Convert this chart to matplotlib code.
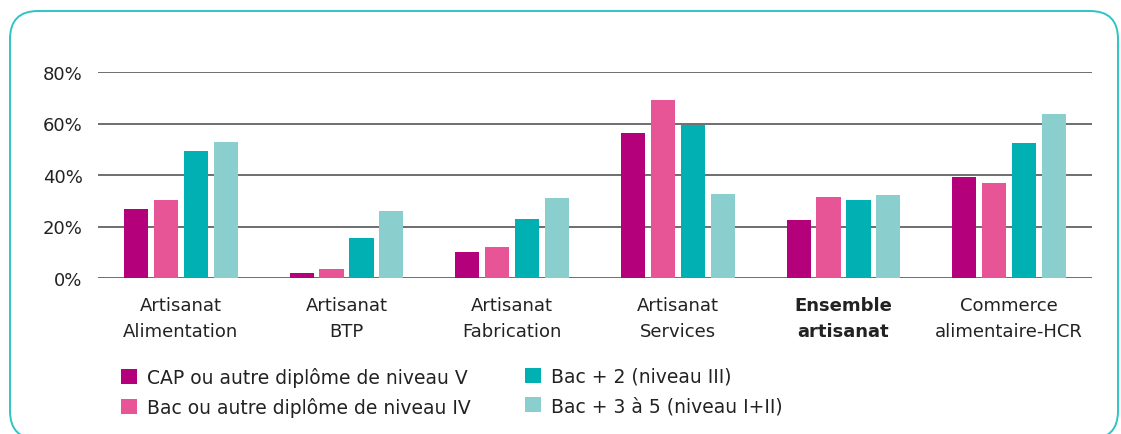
import matplotlib
matplotlib.use("Agg")
import matplotlib.pyplot as plt
from matplotlib.patches import FancyBboxPatch
from matplotlib.transforms import IdentityTransform
import numpy as np

plt.rcParams['font.family'] = ['DejaVu Sans']

categories = ["Artisanat\nAlimentation", "Artisanat\nBTP", "Artisanat\nFabrication",
              "Artisanat\nServices", "Ensemble\nartisanat", "Commerce\nalimentaire-HCR"]
series_names = ["CAP ou autre diplôme de niveau V",
                "Bac ou autre diplôme de niveau IV",
                "Bac + 2 (niveau III)",
                "Bac + 3 à 5 (niveau I+II)"]
cap = [26.8, 2.1, 10.2, 56.4, 22.5, 39.4]
bac = [30.4, 3.4, 12.2, 69.1, 31.5, 36.9]
bac2 = [49.2, 15.6, 23.0, 59.5, 30.3, 52.4]
bac35 = [52.9, 26.1, 31.1, 32.7, 32.4, 63.8]
yticks = [0, 20, 40, 60, 80]
ytick_labels = ["0%", "20%", "40%", "60%", "80%"]

colors = ["#B4007B", "#E85596", "#00B0B3", "#8BCECE"]
values = [cap, bac, bac2, bac35]

fig = plt.figure(figsize=(11.21, 4.35), dpi=100)
W, H = 1121, 435
ax = fig.add_axes([98 / W, 1 - 279 / H, (1092 - 98) / W, (279 - 73) / H])

x = np.arange(len(categories))
step = 0.181
width = 0.145
bars = []
for i, (vals, col) in enumerate(zip(values, colors)):
    b = ax.bar(x + (i - 1.5) * step, vals, width=width, color=col, zorder=3,
               label=series_names[i])
    bars.append(b)

for t in yticks:
    ax.axhline(t, color="#6e6e6e", lw=1.4, zorder=1)

ax.set_xlim(-0.5, 5.5)
ax.set_ylim(0, 80)
ax.set_yticks(yticks)
ax.set_yticklabels(ytick_labels, fontsize=13, color="#222222")
ax.set_xticks(x)
ax.set_xticklabels(categories, fontsize=13, color="#222222", linespacing=1.6)
for lbl in ax.get_xticklabels():
    if lbl.get_text().startswith("Ensemble"):
        lbl.set_fontweight("bold")
ax.tick_params(axis='both', length=0)
ax.tick_params(axis='y', pad=11)
ax.tick_params(axis='x', pad=13)
for s in ax.spines.values():
    s.set_visible(False)

leg_kw = dict(frameon=False, loc="upper left", fontsize=13.5,
              handlelength=0.85, handleheight=0.85, handletextpad=0.55,
              labelspacing=0.55, borderaxespad=0, borderpad=0,
              labelcolor="#222222")
leg1 = fig.legend(handles=bars[:2], labels=series_names[:2],
                  bbox_to_anchor=(121 / W, 1 - 368 / H), **leg_kw)
leg2 = fig.legend(handles=bars[2:], labels=series_names[2:],
                  bbox_to_anchor=(525 / W, 1 - 368 / H), **leg_kw)

border = FancyBboxPatch((10, -5), 1108, 428,
                        boxstyle="round,pad=0,rounding_size=28",
                        transform=IdentityTransform(), fill=False,
                        edgecolor="#2EC4C6", lw=1.4, clip_on=False)
fig.patches.append(border)

fig.savefig("out.png", dpi=100)
